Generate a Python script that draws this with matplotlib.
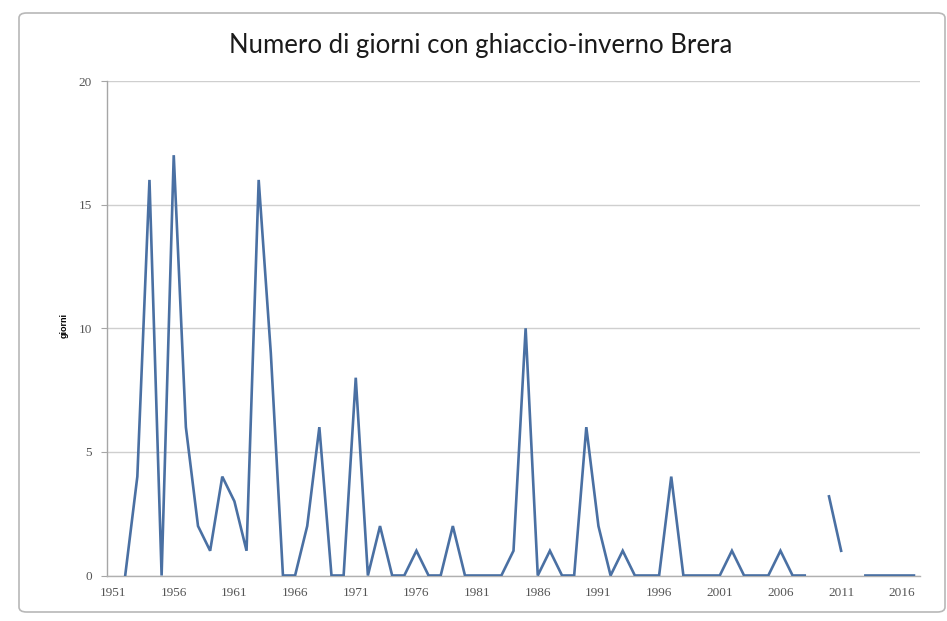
import matplotlib
matplotlib.use("Agg")
import matplotlib.pyplot as plt
from matplotlib.patches import FancyBboxPatch
import numpy as np

# winters 1951..2017, None = no data
years = list(range(1951, 2018))
giorni = [
    None, 0, 4, 16, 0, 17, 6, 2, 1, 4,      # 1951-1960
    3, 1, 16, 9, 0, 0, 2, 6, 0, 0,           # 1961-1970
    8, 0, 2, 0, 0, 1, 0, 0, 2, 0,            # 1971-1980
    0, 0, 0, 1, 10, 0, 1, 0, 0, 6,           # 1981-1990
    2, 0, 1, 0, 0, 0, 4, 0, 0, 0,            # 1991-2000
    0, 1, 0, 0, 0, 1, 0, 0, None, 3.2,       # 2001-2010
    1, None, 0, 0, 0, 0, 0,                  # 2011-2017
]
tick_years = list(range(1951, 2017, 5))
y_ticks = [0, 5, 10, 15, 20]

title = "Numero di giorni con ghiaccio-inverno Brera"
ylabel = "giorni"

values = np.array([np.nan if v is None else v for v in giorni], dtype=float)

fig = plt.figure(figsize=(9.47, 6.21), dpi=100)
fig.patch.set_facecolor("white")

# outer chart frame
frame = FancyBboxPatch(
    (19 / 947, 1 - 612 / 621), (945 - 19) / 947, (612 - 13) / 621,
    boxstyle="round,pad=0,rounding_size=0.008",
    transform=fig.transFigure, facecolor="none", edgecolor="#b8b8b8",
    linewidth=1.2, zorder=-1,
)
fig.patches.append(frame)

ax = fig.add_axes([107 / 947, 1 - 575.5 / 621, 813 / 947, 494.5 / 621])
ax.set_facecolor("none")

ax.plot(years, values, color="#4a70a3", linewidth=1.9, solid_joinstyle="miter", zorder=3)

ax.set_xlim(1950.5, 2017.5)
ax.set_ylim(0, 20)
ax.set_yticks(y_ticks)
ax.set_xticks(tick_years)
ax.set_xticklabels([str(y) for y in tick_years])

ax.grid(axis="y", color="#cfcfcf", linewidth=1.0)
ax.set_axisbelow(True)

for side in ["top", "right"]:
    ax.spines[side].set_visible(False)
ax.spines["left"].set_color("#a6a6a6")
ax.spines["bottom"].set_color("#b0b0b0")
ax.spines["left"].set_linewidth(1.0)
ax.spines["bottom"].set_linewidth(1.0)

ax.tick_params(axis="y", length=4, color="#a6a6a6", labelsize=9.5,
               labelcolor="#555555", pad=7)
ax.tick_params(axis="x", length=0, labelsize=9.5, labelcolor="#555555", pad=8)
for lab in ax.get_xticklabels() + ax.get_yticklabels():
    lab.set_family("Liberation Serif")

ax.set_ylabel(ylabel, fontsize=6.5, fontweight="bold", family="Liberation Sans")
ax.yaxis.set_label_coords(-0.047, 0.505)

fig.text(0.507, 1 - 46 / 621, title, ha="center", va="center",
         fontsize=18.5, family="Lato", color="#1a1a1a")

fig.savefig("out.png", dpi=100, facecolor="white")
plt.close(fig)
